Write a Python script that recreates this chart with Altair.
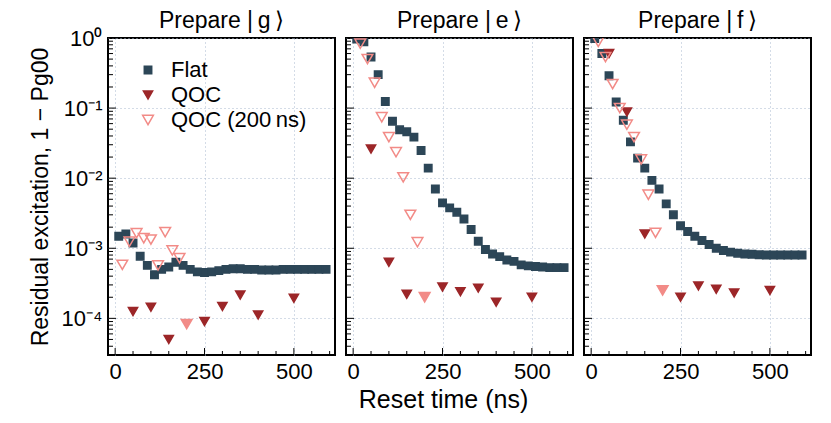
import altair as alt
import pandas as pd

# ---------------- data ----------------
series_names = ["Flat", "QOC", "QOC (200\u2009ns)"]
panel_titles = ["Prepare |\u2009g\u2009⟩", "Prepare |\u2009e\u2009⟩", "Prepare |\u2009f\u2009⟩"]

x_flat = list(range(10, 600, 20))  # 10 .. 590 ns
flat_g = [0.00148, 0.0016, 0.00119, 0.00077, 0.00057, 0.00042, 0.0005, 0.00054, 0.00063, 0.00057,
          0.0005, 0.00046, 0.00045, 0.00046, 0.00048, 0.0005, 0.00051, 0.00051, 0.0005, 0.0005,
          0.00049, 0.00049, 0.00049, 0.0005, 0.0005, 0.0005, 0.0005, 0.0005, 0.0005, 0.0005]
flat_e = [0.97, 0.88, 0.535, 0.30, 0.124, 0.065, 0.049, 0.046, 0.0385, 0.0248,
          0.0139, 0.0070, 0.00444, 0.00377, 0.00327, 0.00262, 0.00185, 0.00126, 0.00096, 0.00083,
          0.00076, 0.00068, 0.00065, 0.00058, 0.00056, 0.00055, 0.00054, 0.00053, 0.00053, 0.00053]
flat_f = [0.98, 0.60, 0.29, 0.122, 0.067, 0.033, 0.0193, 0.0139, 0.0093, 0.0070,
          0.0043, 0.0030, 0.0021, 0.00173, 0.00148, 0.00129, 0.00113, 0.0010, 0.00093, 0.00088,
          0.00085, 0.00083, 0.00082, 0.00081, 0.0008, 0.0008, 0.0008, 0.0008, 0.0008, 0.0008]

x_qoc = [50, 100, 150, 250, 300, 350, 400, 500]
qoc_g = [0.000125, 0.000144, 5.0e-5, 9.0e-5, 0.000148, 0.000215, 0.000112, 0.000193]
qoc_e = [0.026, 0.00063, 0.00022, 0.00028, 0.00024, 0.00027, 0.00017, 0.0002]
qoc_f = [0.60, 0.088, 0.0016, 0.0002, 0.00029, 0.00026, 0.00023, 0.00025]

x_qoc200 = [20, 40, 60, 80, 100, 120, 140, 160, 180]
qoc200_g = [0.00058, 0.00124, 0.00164, 0.00139, 0.00133, 0.00057, 0.0017, 0.00093, 0.00072]
qoc200_e = [0.83, 0.50, 0.23, 0.074, 0.0385, 0.0235, 0.0103, 0.0030, 0.00122]
qoc200_f = [0.88, 0.535, 0.22, 0.10, 0.058, 0.0385, 0.0185, 0.0058, 0.00166]

x_qoc200_end = [200]
qoc200_end_g = [8.3e-5]
qoc200_end_e = [2.0e-4]
qoc200_end_f = [2.5e-4]

y_major = [1e-4, 1e-3, 1e-2, 1e-1, 1.0]
y_minor = [k * 10.0 ** d for d in range(-5, 0) for k in range(2, 10) if k * 10.0 ** d >= 3e-5]
x_major = [0, 250, 500]
x_minor = [50, 100, 150, 200, 300, 350, 400, 450, 550, 600]

# ---------------- style ----------------
FONT = "Liberation Sans"
C_FLAT = "#2c4657"
C_QOC = "#9c2628"
C_PINK = "#f28b87"
W, H = 227, 317
XDOM = [-20, 615]
YDOM = [3e-5, 1.0]

xscale = alt.Scale(domain=XDOM, nice=False, zero=False)
yscale = alt.Scale(type="log", domain=YDOM, nice=False)

label_expr = ("datum.value >= 0.5 ? '10⁰' : datum.value >= 0.05 ? '10⁻¹' : "
              "datum.value >= 0.005 ? '10⁻²' : datum.value >= 0.0005 ? '10⁻³' : '10⁻⁴'")


def panel(i, flat, qoc, qoc200, qoc200_end):
    rows = []
    for x, v in zip(x_flat, flat):
        rows.append({"x": x, "y": v, "series": series_names[0]})
    for x, v in zip(x_qoc, qoc):
        rows.append({"x": x, "y": v, "series": series_names[1]})
    for x, v in zip(x_qoc200, qoc200):
        rows.append({"x": x, "y": v, "series": series_names[2]})
    df = pd.DataFrame(rows)
    df_end = pd.DataFrame({"x": x_qoc200_end, "y": qoc200_end})

    if i == 0:
        yaxis = alt.Axis(values=y_major, labelExpr=label_expr, ticks=False, domain=False, grid=True,
                         labelPadding=6, labelFontSize=22, title="Residual excitation, 1 − Pg00",
                         titleFontSize=23, titleFontWeight="normal", titlePadding=9)
    else:
        yaxis = alt.Axis(values=y_major, labels=False, ticks=False, domain=False, grid=True, title=None)
    if i == 1:
        xaxis = alt.Axis(values=x_major, ticks=False, domain=False, grid=True, labelPadding=6,
                         labelFontSize=22, title="Reset time (ns)", titleFontSize=25,
                         titleFontWeight="normal", titlePadding=5, titleX=97, titleAlign="center",
                         titleAnchor="start")
    else:
        xaxis = alt.Axis(values=x_major, ticks=False, domain=False, grid=True, labelPadding=6,
                         labelFontSize=22, title=None)

    pts = alt.Chart(df).mark_point(filled=False, strokeWidth=1.5, opacity=1, clip=True).encode(
        x=alt.X("x:Q", scale=xscale, axis=xaxis),
        y=alt.Y("y:Q", scale=yscale, axis=yaxis),
        shape=alt.Shape("series:N", scale=alt.Scale(domain=series_names,
                        range=["square", "triangle-down", "triangle-down"]), legend=alt.Legend(title=None)),
        fill=alt.Fill("series:N", scale=alt.Scale(domain=series_names,
                      range=[C_FLAT, C_QOC, "transparent"]), legend=alt.Legend(title=None)),
        stroke=alt.Stroke("series:N", scale=alt.Scale(domain=series_names,
                          range=[C_FLAT, C_QOC, C_PINK]), legend=alt.Legend(title=None)),
        size=alt.Size("series:N", scale=alt.Scale(domain=series_names, range=[55, 115, 115]),
                      legend=alt.Legend(title=None)),
    )
    end = alt.Chart(df_end).mark_point(shape="triangle-down", filled=True, fill=C_PINK, stroke=C_PINK,
                                       strokeWidth=1.5, size=115, opacity=1, clip=True).encode(
        x=alt.X("x:Q", scale=xscale), y=alt.Y("y:Q", scale=yscale))

    ymaj = alt.Chart(pd.DataFrame({"y": y_major})).mark_rule(color="black", strokeWidth=1).encode(
        y=alt.Y("y:Q", scale=yscale), x=alt.value(0), x2=alt.value(8))
    ymin = alt.Chart(pd.DataFrame({"y": y_minor})).mark_rule(color="black", strokeWidth=1).encode(
        y=alt.Y("y:Q", scale=yscale), x=alt.value(0), x2=alt.value(5))
    xmaj = alt.Chart(pd.DataFrame({"x": x_major})).mark_rule(color="black", strokeWidth=1).encode(
        x=alt.X("x:Q", scale=xscale), y=alt.value(H), y2=alt.value(H - 7))
    xmin = alt.Chart(pd.DataFrame({"x": x_minor})).mark_rule(color="black", strokeWidth=1).encode(
        x=alt.X("x:Q", scale=xscale), y=alt.value(H), y2=alt.value(H - 4))

    return alt.layer(ymaj, ymin, xmaj, xmin, pts, end).properties(
        width=W, height=H,
        title=alt.TitleParams(panel_titles[i], fontSize=23, font=FONT, fontWeight="normal",
                              offset=(-6 if i == 0 else 5)),
    )


p1 = panel(0, flat_g, qoc_g, qoc200_g, qoc200_end_g)
p2 = panel(1, flat_e, qoc_e, qoc200_e, qoc200_end_e)
p3 = panel(2, flat_f, qoc_f, qoc200_f, qoc200_end_f)

chart = alt.hconcat(p1, p2, p3, spacing=8).properties(
    padding={"left": 20, "top": 0, "right": 5, "bottom": 5}
).configure(font=FONT).configure_view(
    stroke="black", strokeWidth=2
).configure_axis(
    labelFont=FONT, titleFont=FONT, labelColor="black", titleColor="black",
    gridColor="#a9b9ce", gridDash=[1, 3], gridWidth=1, gridOpacity=1,
).configure_legend(
    orient="none", legendX=29, legendY=21, labelFont=FONT, labelFontSize=22, labelColor="black",
    symbolStrokeWidth=1.5, rowPadding=3, labelOffset=12, padding=0,
)

chart.save("out.html", embed_options={"renderer": "svg", "actions": False})
